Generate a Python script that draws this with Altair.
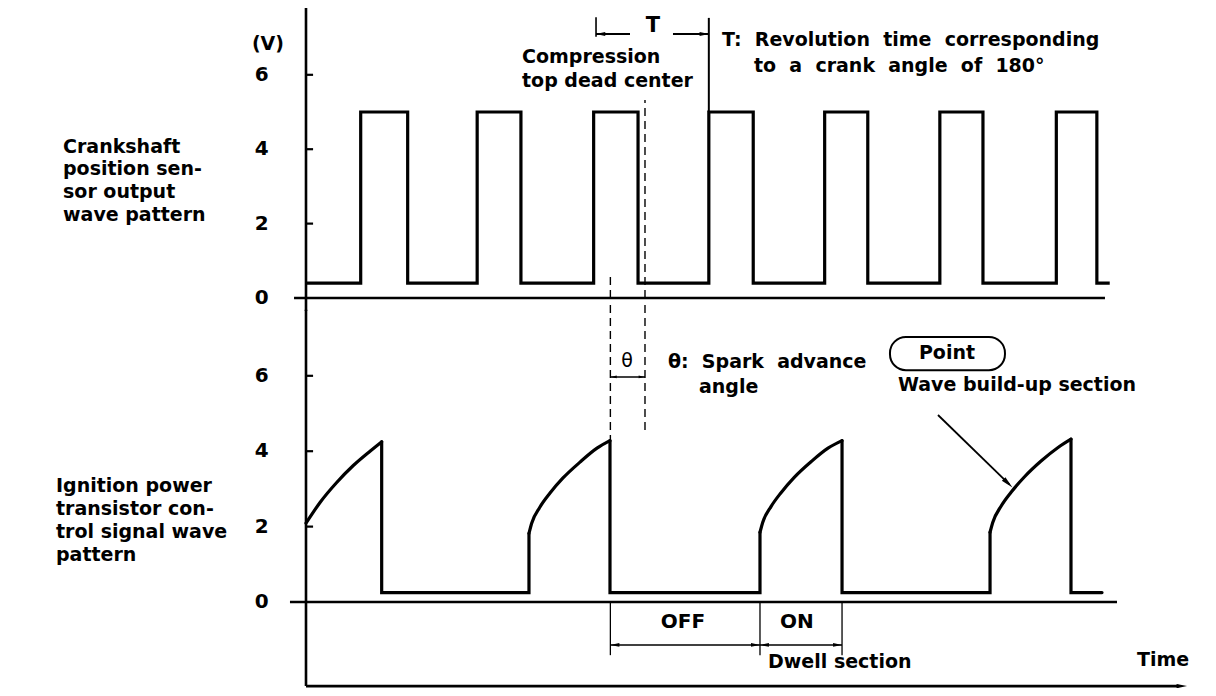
import altair as alt
import pandas as pd

FONT = "DejaVu Sans"
NB = "\u00a0"
ARROW = "M0,-1L0.42,1L-0.42,1Z"

# ---------------- values ----------------
# x = crank angle in degrees (time axis, T = 180 deg), y = volts

# Crankshaft position sensor output (upper trace)
CPS_RISE = [85, 266, 447, 626, 806, 985, 1166]
CPS_FALL = [158, 334, 516, 695, 873, 1052, 1229]
CPS_END = 1249
CPS_LOW = 0.4
CPS_HIGH = 5.0

# Ignition power transistor control signal (lower trace): build-up curves
IGN_CURVE_X = [
    [0.0, 21.8, 47.7, 73.5, 99.5, 117.6],
    [346.5, 350.7, 363.6, 379.2, 399.4, 425.8, 452.2, 472.4],
    [705.5, 709.7, 722.6, 738.2, 758.4, 784.8, 811.2, 833.0],
    [1063.0, 1067.2, 1080.1, 1095.7, 1115.9, 1142.3, 1168.7, 1188.8],
]
IGN_CURVE_V = [
    [2.09, 2.64, 3.17, 3.62, 4.00, 4.25],
    [1.82, 2.09, 2.52, 2.89, 3.29, 3.71, 4.08, 4.28],
    [1.85, 2.11, 2.53, 2.90, 3.30, 3.72, 4.08, 4.28],
    [1.85, 2.11, 2.54, 2.91, 3.31, 3.74, 4.10, 4.32],
]
IGN_LOW = 0.25
IGN_END = 1237

TICK_V = [2, 4, 6]
TICK_LABEL_V = [0, 2, 4, 6]

TDC = 526.8          # compression top dead center
SPARK = 473.0        # ignition (spark) point
DWELL_ON = 705.5
DWELL_END = 833.0
T_START = 450.7
T_END = 626.0

# ---------------- scales ----------------
X_DOMAIN = [-463.09, 1401.71]
UP_DOMAIN = [-10.484, 7.796]
LO_DOMAIN = [-2.281, 15.756]

XS = alt.Scale(domain=X_DOMAIN, nice=False, zero=False)


def ysc(panel):
    return alt.Scale(domain=UP_DOMAIN if panel == "up" else LO_DOMAIN, nice=False, zero=False)


def X():
    return alt.X("x:Q", scale=XS, axis=None)


def Y(panel):
    return alt.Y("y:Q", scale=ysc(panel), axis=None)


def rules(rows, panel, dash=None):
    df = pd.DataFrame(rows, columns=["x", "x2", "y", "y2", "w"])
    kw = dict(color="black", strokeCap="butt")
    if dash:
        kw["strokeDash"] = dash
    return alt.Chart(df).mark_rule(**kw).encode(
        x=X(), x2=alt.X2("x2:Q"), y=Y(panel), y2=alt.Y2("y2:Q"),
        strokeWidth=alt.StrokeWidth("w:Q", scale=None),
    )


def texts(rows, panel, align, weight="bold"):
    df = pd.DataFrame(rows, columns=["x", "y", "t", "fs"])
    return alt.Chart(df).mark_text(
        align=align, baseline="middle", font=FONT, fontWeight=weight, color="black"
    ).encode(x=X(), y=Y(panel), text="t:N", size=alt.Size("fs:Q", scale=None))


def heads(rows, panel):
    df = pd.DataFrame(rows, columns=["x", "y", "a", "s"])
    return alt.Chart(df).mark_point(
        shape=ARROW, filled=True, fill="black", color="black", opacity=1, strokeWidth=0
    ).encode(x=X(), y=Y(panel), angle=alt.Angle("a:Q", scale=None),
             size=alt.Size("s:Q", scale=None))


# ---------------- tables ----------------
cps = [(0, CPS_LOW)]
for r, f in zip(CPS_RISE, CPS_FALL):
    cps += [(r, CPS_LOW), (r, CPS_HIGH), (f, CPS_HIGH), (f, CPS_LOW)]
cps.append((CPS_END, CPS_LOW))
cps_df = pd.DataFrame(cps, columns=["x", "y"])
cps_df["o"] = range(len(cps_df))

curve_rows, seg_rows = [], []
for i, (cx, cv) in enumerate(zip(IGN_CURVE_X, IGN_CURVE_V)):
    for x, v in zip(cx, cv):
        curve_rows.append(dict(x=x, y=v, cyc=i))
    pts = [(cx[-1], cv[-1]), (cx[-1], IGN_LOW)]
    if i + 1 < len(IGN_CURVE_X):
        pts += [(IGN_CURVE_X[i + 1][0], IGN_LOW), (IGN_CURVE_X[i + 1][0], IGN_CURVE_V[i + 1][0])]
    else:
        pts += [(IGN_END, IGN_LOW)]
    for k, (x, v) in enumerate(pts):
        seg_rows.append(dict(x=x, y=v, seg=i, o=k))
curve_df = pd.DataFrame(curve_rows)
seg_df = pd.DataFrame(seg_rows)

# ---------------- upper panel ----------------
up_wave = alt.Chart(cps_df).mark_line(color="black", strokeWidth=3.2, strokeJoin="miter").encode(
    x=X(), y=Y("up"), order="o:Q")

up_rules = rules(
    [(-18.6, 1241.6, 0, 0, 2.6),
     (0, 0, -0.35, 7.88, 2.6)]
    + [(0, 11, v, v, 2.2) for v in TICK_V]
    + [(T_START, T_START, 7.02, 7.55, 1.6),
       (T_START, 503.5, 7.10, 7.10, 2.0),
       (570.3, T_END, 7.10, 7.10, 2.0),
       (T_END, T_END, CPS_HIGH, 7.53, 2.0)],
    "up")

up_dash = rules([(TDC, TDC, 0, 5.32, 1.4), (SPARK, SPARK, 0, 0.62, 1.4)], "up", dash=[8, 5])

up_heads = heads([(T_START + 7, 7.10, 270, 90), (T_END - 7, 7.10, 90, 90)], "up")

up_text_c = texts(
    [(-59.1, 6.83, "(V)", 19)]
    + [(-69, v, str(v), 20) for v in TICK_LABEL_V]
    + [(539.2, 7.31, "T", 21)],
    "up", "center")

up_text_l = texts(
    [(-377.6, 4.06, "Crankshaft", 19),
     (-377.6, 3.47, "position sen-", 19),
     (-377.6, 2.85, "sor output", 19),
     (-377.6, 2.23, "wave pattern", 19),
     (335.7, 6.48, "Compression", 19),
     (335.7, 5.83, "top dead center", 19),
     (646.5, 6.94, f"T:{NB} Revolution{NB} time{NB} corresponding", 19),
     (696.2, 6.24, f"to{NB} a{NB} crank{NB} angle{NB} of{NB} 180°", 19)],
    "up", "left")

# ---------------- lower panel ----------------
lo_curves = alt.Chart(curve_df).mark_line(
    color="black", strokeWidth=3.2, interpolate="monotone", strokeCap="round").encode(
    x=X(), y=Y("lo"), detail="cyc:N")

lo_segs = alt.Chart(seg_df).mark_line(color="black", strokeWidth=3.2, strokeCap="round").encode(
    x=X(), y=Y("lo"), detail="seg:N", order="o:Q")

lo_rules = rules(
    [(-24.9, 1260.3, 0, 0, 2.6),
     (0, 0, -2.23, 7.75, 2.6),
     (0, 1356, -2.23, -2.23, 2.6)]
    + [(0, 11, v, v, 2.2) for v in TICK_V]
    + [(SPARK, SPARK, 0, -1.41, 1.3),
       (DWELL_ON, DWELL_ON, 0, -1.41, 1.3),
       (DWELL_END, DWELL_END, 0, -1.41, 1.3),
       (SPARK, DWELL_ON, -1.14, -1.14, 1.6),
       (DWELL_ON, DWELL_END, -1.14, -1.14, 1.6),
       (SPARK, TDC, 5.97, 5.97, 1.6),
       (982.1, 1093.0, 4.96, 3.12, 1.8)],
    "lo")

lo_dash = rules([(TDC, TDC, 7.88, 4.51, 1.4), (SPARK, SPARK, 7.88, 4.24, 1.4)], "lo", dash=[8, 5])

lo_heads = heads(
    [(SPARK + 5, 5.97, 270, 40), (TDC - 5, 5.97, 90, 40),
     (SPARK + 7, -1.14, 270, 80), (DWELL_ON - 7, -1.14, 90, 80),
     (DWELL_ON + 7, -1.14, 270, 80), (DWELL_END - 7, -1.14, 90, 80),
     (1361, -2.23, 90, 110),
     (1091, 3.15, 134, 150)],
    "lo")

point_box = alt.Chart(pd.DataFrame([dict(x=907.5, x2=1086.2, y=7.03, y2=6.15)])).mark_rect(
    cornerRadius=16, fill="white", fillOpacity=0, stroke="black", strokeWidth=2).encode(
    x=X(), x2=alt.X2("x2:Q"), y=Y("lo"), y2=alt.Y2("y2:Q"))

lo_text_c = texts(
    [(-69, v, str(v), 20) for v in TICK_LABEL_V]
    + [(996.1, 6.60, "Point", 19),
       (585.9, -0.53, "OFF", 20),
       (763.0, -0.53, "ON", 20)],
    "lo", "center")

lo_text_theta = texts([(498.8, 6.39, "θ", 19)], "lo", "center", weight="normal")

lo_text_l = texts(
    [(-388.5, 3.08, "Ignition power", 19),
     (-388.5, 2.47, "transistor con-", 19),
     (-388.5, 1.86, "trol signal wave", 19),
     (-388.5, 1.25, "pattern", 19),
     (562.5, 6.37, f"θ:{NB} Spark{NB} advance", 19),
     (610.7, 5.70, "angle", 19),
     (920.0, 5.76, "Wave build-up section", 19),
     (718.0, -1.59, "Dwell section", 19),
     (1291.4, -1.54, "Time", 19)],
    "lo", "left")

chart = alt.layer(
    up_rules, up_dash, up_wave, up_heads, up_text_c, up_text_l,
    lo_rules, lo_dash, lo_segs, lo_curves, lo_heads, point_box,
    lo_text_c, lo_text_theta, lo_text_l,
).resolve_scale(y="independent").properties(
    width=1200, height=680, padding=0, background="white",
    autosize=alt.AutoSizeParams(type="none"),
).configure_view(stroke=None)

chart.save("out.html", embed_options={"renderer": "svg", "actions": False})
